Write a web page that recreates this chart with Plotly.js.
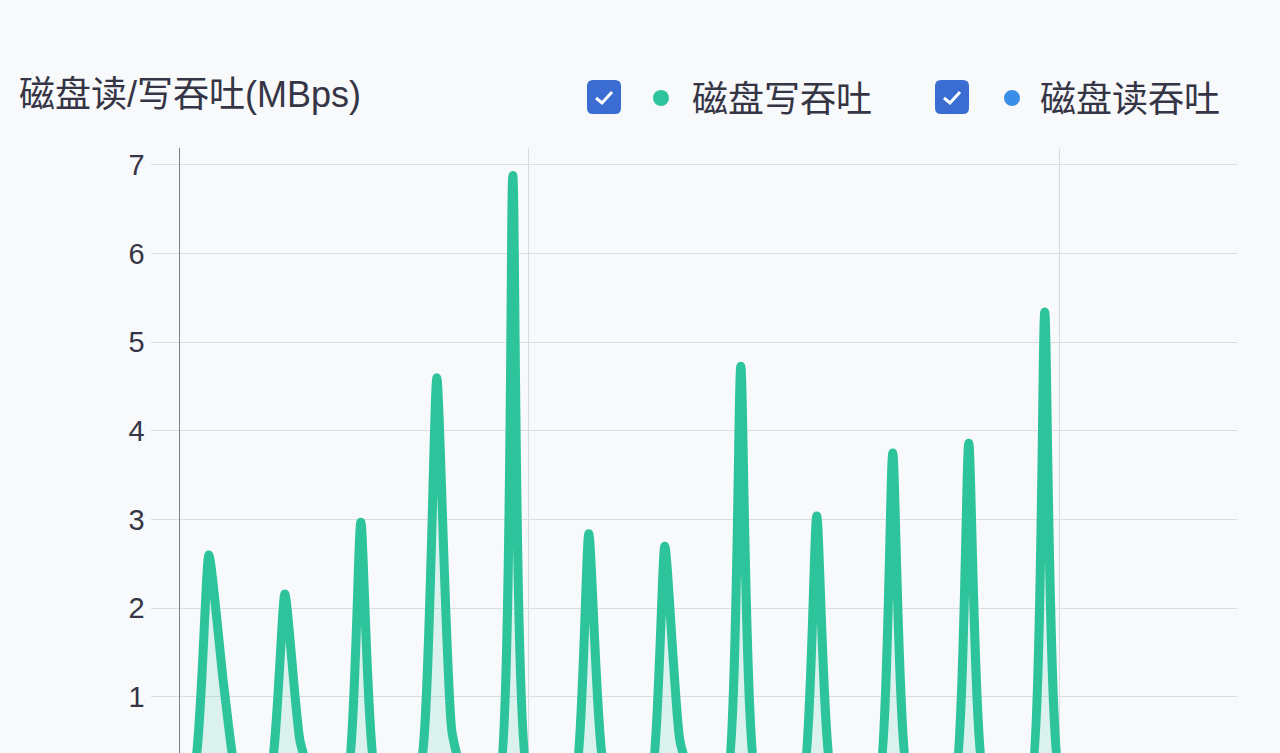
<!DOCTYPE html>
<html>
<head>
<meta charset="utf-8">
<script src="https://cdn.plot.ly/plotly-3.0.1.min.js"></script>
<style>
  html, body { margin: 0; padding: 0; background: #f8f9fb; }
  #chart { width: 1280px; height: 753px; }
  #chart .scatterlayer path.js-line { stroke-linejoin: round !important; stroke-linecap: round !important; }
</style>
</head>
<body>
<div id="chart"></div>
<script>
// Sample times (minutes)
const minutes = [12,13,14,15,16,17,18,19,20,21,22,23,24,25,26,27,28,29,30,31,32,33,34,35,36,37,38,39,40,41,42,43,44,45,46,47,48,49,50,51,52,53,54,55,56,57,58,59,60,61,62,63,64,65,66,67,68,69,70,71,72,73,74,75,76,77,78,79,80,81,82];
// 磁盘写吞吐 (MBps)
const writeThroughput = [0,0.15,2.60,1.10,0,0,0.1,2.16,0.50,0,0,0,2.97,0.1,0,0,0.3,4.60,0.6,0,0,0,6.88,0.1,0,0,0,2.84,0.2,0,0,0,2.70,0.5,0,0,0,4.73,0.1,0,0,0,3.04,0.1,0,0,0,3.75,0.1,0,0,0,3.86,0.1,0,0,0,5.34,0.1,0,0,0,0,0,0,0,0,0,0,0,0];
// 磁盘读吞吐 (MBps)
const readThroughput = [0,0,0,0,0,0,0,0,0,0,0,0,0,0,0,0,0,0,0,0,0,0,0,0,0,0,0,0,0,0,0,0,0,0,0,0,0,0,0,0,0,0,0,0,0,0,0,0,0,0,0,0,0,0,0,0,0,0,0,0,0,0,0,0,0,0,0,0,0,0,0];
const seriesNames = ['磁盘写吞吐', '磁盘读吞吐'];
const yTicks = [1,2,3,4,5,6,7];
const yTitle = '磁盘读/写吞吐(MBps)';

const W = 1280, H = 753;
const L = 180, R = 43, T = 148, B = 0;
const pw = W - L - R, ph = H - T - B;
const px = x => (x - L) / pw;
const py = y => 1 + (T - y) / ph;

const green = '#2dc49b';
const blue = '#3b8ee8';
const boxColor = '#3a6cd2';
const textColor = '#353545';

const traces = [
  {
    x: minutes, y: readThroughput, name: seriesNames[1], type: 'scatter', mode: 'lines',
    line: {color: blue, width: 9, shape: 'spline', smoothing: 0.5},
    fill: 'tozeroy', fillcolor: 'rgba(59,142,232,0.12)', hoverinfo: 'skip'
  },
  {
    x: minutes, y: writeThroughput, name: seriesNames[0], type: 'scatter', mode: 'lines',
    line: {color: green, width: 9, shape: 'spline', smoothing: 0.5},
    fill: 'tozeroy', fillcolor: 'rgba(45,196,155,0.14)', hoverinfo: 'skip'
  }
];

function roundRect(x0, y0, x1, y1, r) {
  const rx = r / pw, ry = r / ph;
  const a = px(x0), b = px(x1), top = py(y0), bot = py(y1);
  return `M${a+rx},${top} L${b-rx},${top} Q${b},${top} ${b},${top-ry} L${b},${bot+ry} Q${b},${bot} ${b-rx},${bot} L${a+rx},${bot} Q${a},${bot} ${a},${bot+ry} L${a},${top-ry} Q${a},${top} ${a+rx},${top} Z`;
}
function check(cx, cy) {
  return `M${px(cx-8)},${py(cy+1)} L${px(cx-2)},${py(cy+6)} L${px(cx+8)},${py(cy-5)}`;
}
function circle(cx, cy, r, color) {
  return {type: 'circle', xref: 'paper', yref: 'paper', x0: px(cx-r), x1: px(cx+r), y0: py(cy+r), y1: py(cy-r),
          fillcolor: color, line: {width: 0}};
}

const legendItems = [
  {box: 587, dot: 661, text: 692, color: green, label: seriesNames[0]},
  {box: 935, dot: 1012, text: 1040, color: blue, label: seriesNames[1]}
];
const shapes = [];
const annotations = [{
  xref: 'paper', yref: 'paper', x: px(17), y: py(95), xanchor: 'left', yanchor: 'middle',
  text: yTitle, showarrow: false,
  font: {family: 'Liberation Sans, Noto Sans CJK SC, sans-serif', size: 36, color: textColor}
}];
legendItems.forEach(it => {
  shapes.push({type: 'path', xref: 'paper', yref: 'paper', path: roundRect(it.box, 80, it.box + 34, 114, 6),
               fillcolor: boxColor, line: {width: 0}});
  shapes.push({type: 'path', xref: 'paper', yref: 'paper', path: check(it.box + 17, 97),
               line: {color: '#ffffff', width: 3}});
  shapes.push(circle(it.dot, 98, 8, it.color));
  annotations.push({
    xref: 'paper', yref: 'paper', x: px(it.text - 2), y: py(96), xanchor: 'left', yanchor: 'middle',
    text: it.label, showarrow: false,
    font: {family: 'Noto Sans CJK SC, sans-serif', size: 36, color: textColor}
  });
});

const layout = {
  width: W, height: H,
  margin: {l: L, r: R, t: T, b: B, pad: 0},
  paper_bgcolor: '#f8f9fb', plot_bgcolor: '#f8f9fb',
  showlegend: false,
  xaxis: {
    range: [12.1, 81.65], tick0: 0, dtick: 35, showgrid: true, gridcolor: '#d9dae0', gridwidth: 1,
    showticklabels: false, zeroline: false, showline: false, ticks: ''
  },
  yaxis: {
    range: [0.368, 7.19], tickvals: yTicks, ticktext: yTicks.map(String),
    showgrid: true, gridcolor: '#dcdde3', gridwidth: 1, zeroline: false,
    showline: true, linecolor: '#7e7e88', linewidth: 1.5,
    ticks: 'outside', ticklen: 28, tickcolor: '#dcdde3', tickwidth: 1,
    tickfont: {family: 'Liberation Sans, sans-serif', size: 29, color: textColor}
  },
  shapes: shapes,
  annotations: annotations
};

Plotly.newPlot('chart', traces, layout, {displayModeBar: false, staticPlot: true});
</script>
</body>
</html>
